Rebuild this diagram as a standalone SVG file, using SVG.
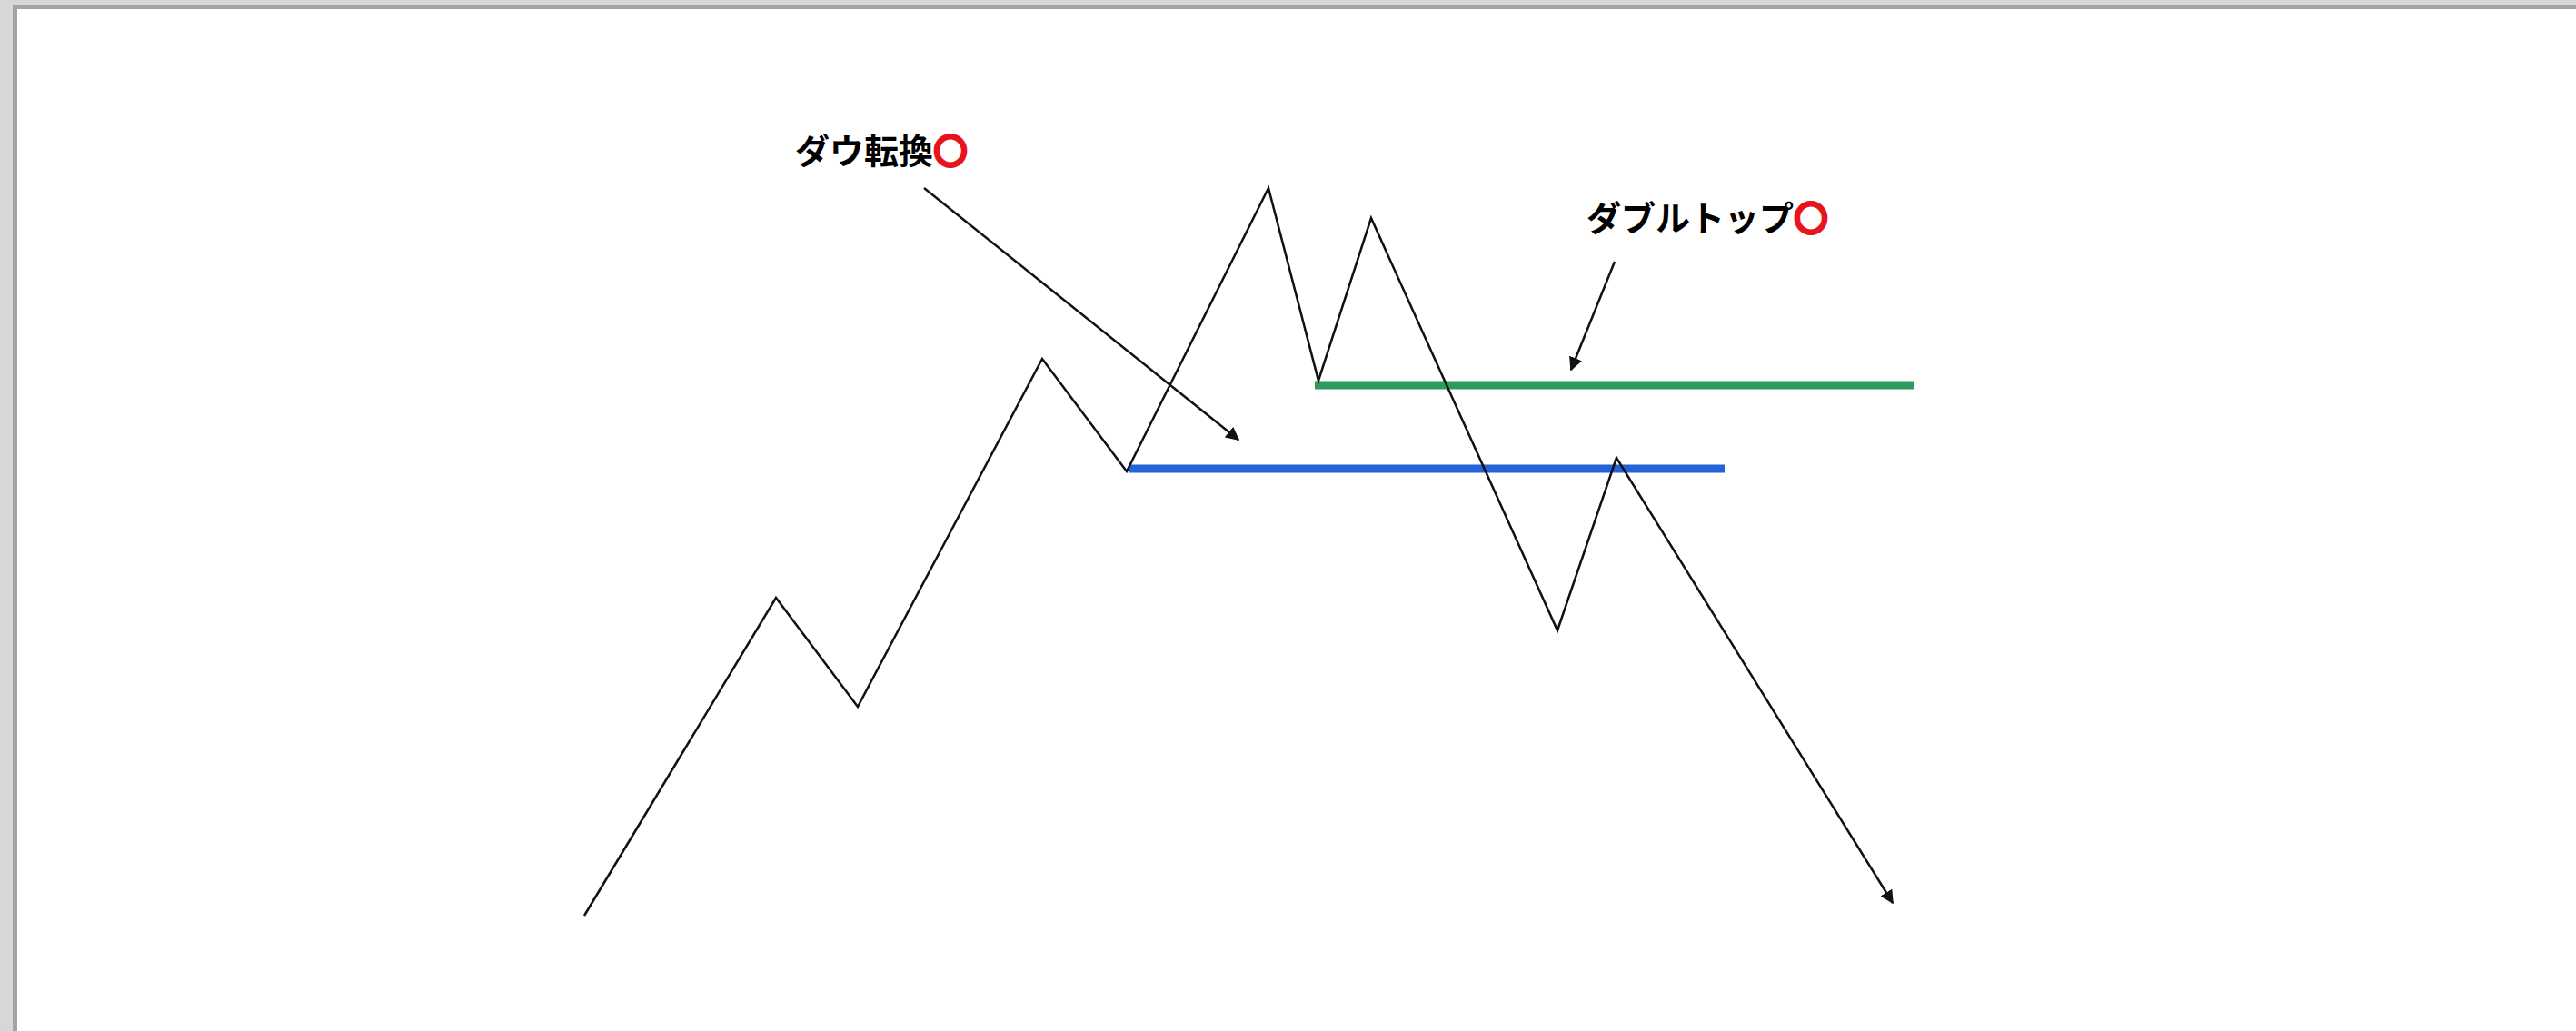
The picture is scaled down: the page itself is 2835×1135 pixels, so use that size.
<svg xmlns="http://www.w3.org/2000/svg" width="2835" height="1135" viewBox="0 0 2835 1135">
<defs>
<style>
.lbl{font-family:"Noto Sans CJK JP","Noto Sans CJK SC",sans-serif;font-weight:bold;font-size:38px;fill:#000}
.ring{fill:#e8141c;stroke:#e8141c;stroke-width:1.8}
.price{fill:none;stroke:#111;stroke-width:2.5;stroke-linejoin:miter}
.arr{fill:none;stroke:#111;stroke-width:2.5}
</style>
<marker id="ah" viewBox="0 0 10 10" refX="9" refY="5" markerWidth="6" markerHeight="6" markerUnits="strokeWidth" orient="auto">
<path d="M0,0 L10,5 L0,10 Z" fill="#111"/>
</marker>
</defs>
<rect x="0" y="0" width="2835" height="1135" fill="#d7d7d7"/>
<rect x="14" y="5" width="2821" height="1130" fill="#a4a4a4"/>
<rect x="19" y="10" width="2816" height="1125" fill="#ffffff"/>
<g id="levels">
<line id="blue-line" x1="1242" y1="516" x2="1898" y2="516" stroke="#2563d8" stroke-width="9"/>
<line id="green-line" x1="1447" y1="424" x2="2106" y2="424" stroke="#2e9a60" stroke-width="9"/>
</g>
<g id="connectors">
<polyline class="price" points="643,1008 854,658 944,778 1147,395 1240,519 1396,207 1451,419 1509,240 1714,694 1779,504 2083,994" marker-end="url(#ah)"/>
<line class="arr" x1="1017" y1="207" x2="1363" y2="484" marker-end="url(#ah)"/>
<line class="arr" x1="1777" y1="288" x2="1729" y2="407" marker-end="url(#ah)"/>
</g>
<g id="label-dow">
<text class="lbl" x="875" y="180">ダウ転換<tspan class="ring">〇</tspan></text>
</g>
<g id="label-doubletop">
<text class="lbl" x="1746" y="254">ダブルトップ<tspan class="ring">〇</tspan></text>
</g>
</svg>
